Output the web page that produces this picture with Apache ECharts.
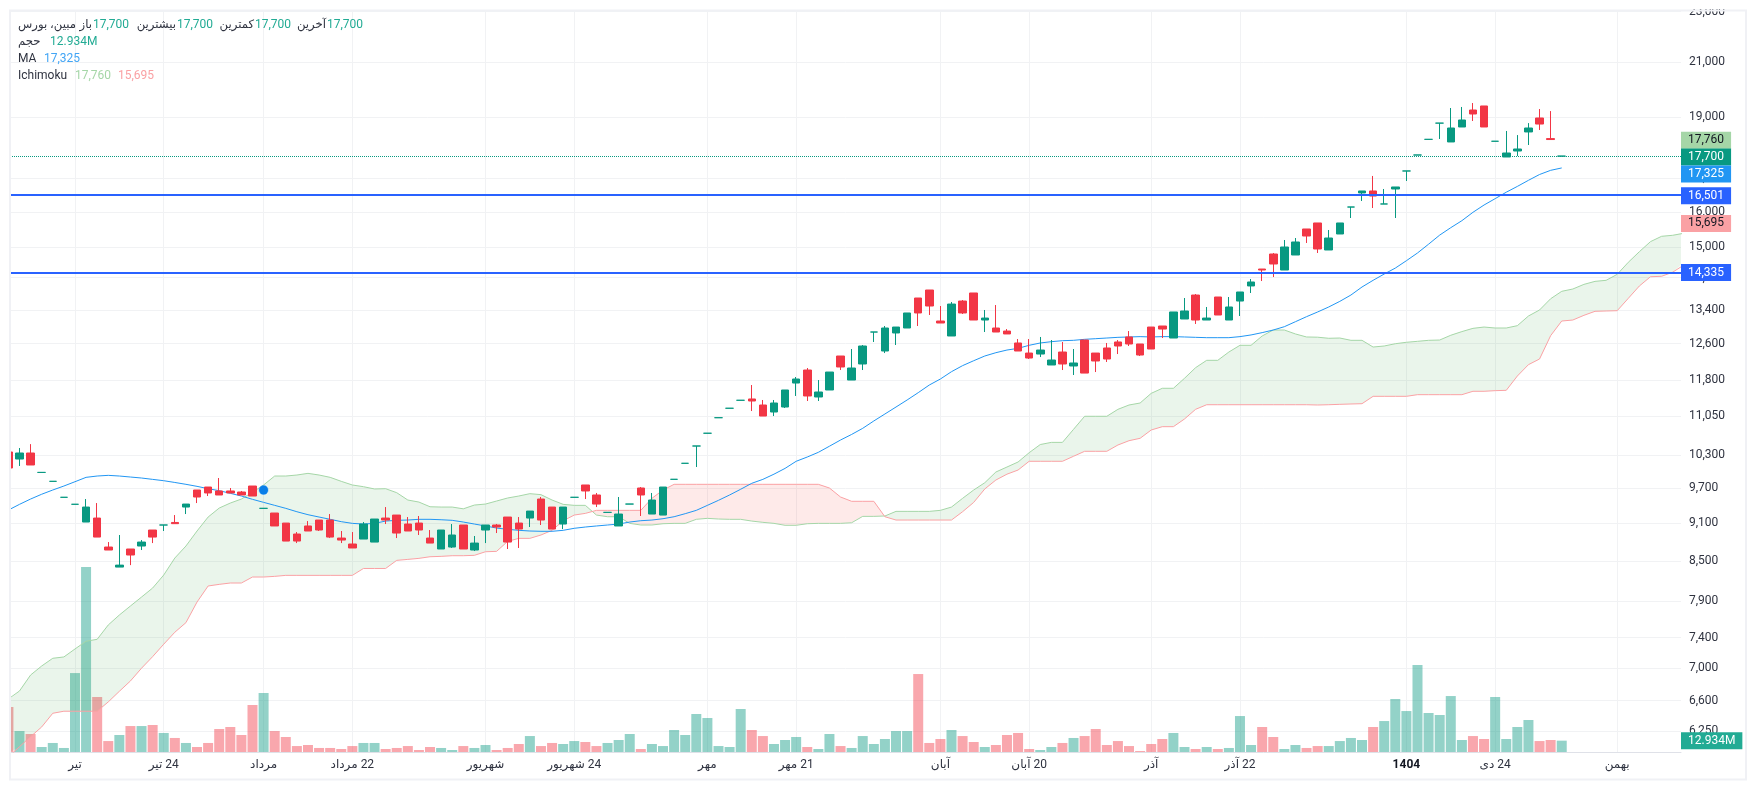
<!DOCTYPE html>
<html lang="fa">
    <head>
        <meta charset="utf-8" />
        <title>مبین، بورس</title>
        <style type="text/css">
            html, body { margin: 0; padding: 0; background: #fff; }
            #chart { width: 1757px; height: 790px; }
        </style>
        <script src="https://cdn.jsdelivr.net/npm/echarts@6/dist/echarts.min.js"></script>
    </head>
    <body>
        <div id="chart"></div>
        <script>
            //----------Data----------//
            const candleOpen = [
                10356,10225,10337,9980,9820,9540,9420,9122,9188,8718,
                8407,8687,8734,8991,9073,9115,9373,9667,9719,9650,
                9650,9632,9737,9351,9272,9105,8926,9057,9155,9155,
                8861,8766,8845,8797,9188,9238,9089,9105,8861,8687,
                8718,9073,8671,8991,9073,9205,9105,9188,9510,9373,
                9089,9540,9755,9580,9283,9057,9424,9702,9255,9238,
                9856,10146,10469,10714,11020,11210,11373,11400,11276,11134,
                11235,11734,12014,11441,11587,12323,11798,12146,12870,12435,
                12848,12964,13688,13888,13129,12778,13613,13813,13153,12964,
                12893,12617,12389,12367,12124,12412,12102,12685,12389,12503,
                12640,12755,12594,12987,13011,12731,13177,13762,13153,13713,
                13153,13613,13990,14426,14824,14400,14797,15511,15681,14932,
                15371,16141,16558,16617,16230,16677,17230,17736,18246,18790,
                18160,18659,19242,19383,18183,17672,17865,18492,18966,18270,17700
            ];
            const candleClose = [
                10060,10337,10115,9980,9820,9540,9420,9373,8877,8671,
                8437,8593,8797,8877,9073,9095,9424,9545,9615,9580,
                9615,9580,9562,9351,9057,8813,8813,8975,8991,8877,
                8829,8703,9089,9172,9155,8942,8975,8991,8781,8991,
                8910,8687,8781,9073,9040,8797,9007,9305,9155,9007,
                9373,9540,9650,9424,9283,9255,9424,9580,9493,9719,
                9856,10146,10469,10714,11020,11210,11373,11358,11053,11317,
                11587,11820,11462,11545,11970,12080,12058,12548,12870,12964,
                12987,13322,13322,13491,13082,13539,13322,13153,13200,12870,
                12825,12435,12278,12457,12234,12146,12168,11948,12212,12256,
                12548,12594,12345,12480,12940,13346,13370,13153,13200,13273,
                13467,13838,14091,14400,14558,15013,15150,15315,14959,15260,
                15681,16141,16617,16465,16230,16738,17230,17736,18246,18790,
                18625,18897,19104,18659,18183,17800,17930,18625,18759,18240,17700
            ];
            const candleLow = [
                10060,10097,10115,9980,9820,9540,9420,9122,8877,8671,
                8407,8437,8671,8781,8975,9095,9255,9441,9562,9580,
                9615,9580,9562,9351,9057,8813,8781,8975,8975,8861,
                8781,8703,8845,8797,9089,8861,8975,8910,8781,8687,
                8703,8687,8655,8781,8942,8687,8703,9040,9073,9007,
                9007,9540,9510,9373,9283,9057,9424,9222,9255,9238,
                9856,10146,10078,10714,11020,11210,11373,11154,11053,11053,
                11215,11462,11358,11358,11587,12014,11798,12014,12640,12389,
                12571,12964,13011,13273,13082,12778,13297,13153,12870,12870,
                12825,12435,12256,12300,12124,12014,11906,11948,11970,12190,
                12367,12548,12323,12480,12731,12731,13177,13059,13153,13273,
                13153,13249,13813,14116,14219,14400,14797,15123,14851,14932,
                15371,15823,16318,16112,16230,15823,16920,17736,18246,18258,
                18160,18659,18863,18659,18183,17672,17704,18060,18558,18240,17700
            ];
            const candleHigh = [
                10356,10431,10505,9980,9820,9540,9420,9510,9441,8797,
                8910,8687,8829,8991,9073,9238,9424,9667,9719,9879,
                9702,9650,9737,9351,9272,9105,8958,9138,9155,9255,
                8975,8958,9122,9172,9373,9238,9205,9222,8991,8991,
                9089,9073,8894,9073,9090,9205,9205,9305,9545,9373,
                9373,9540,9755,9615,9283,9545,9424,9719,9615,9719,
                9856,10146,10469,10714,11020,11210,11373,11692,11379,11379,
                11587,11863,12058,11798,11970,12323,12480,12571,12870,13011,
                12987,13322,13688,13888,13491,13589,13638,13813,13394,13515,
                12940,12708,12708,12755,12685,12640,12480,12685,12389,12617,
                12685,12893,12594,12987,13011,13346,13688,13787,13467,13713,
                13713,13838,14168,14426,14851,15205,15260,15511,15681,15483,
                15681,16141,16617,17075,16677,16738,17230,17736,18246,18790,
                19312,19348,19487,19383,18183,18525,18388,18791,19276,19205,17700
            ];
            // traded volume, millions
            const volume = [
                51.3,23.9,20.5,5.7,10.3,4.6,90,210.9,62.7,12.5,
                19.4,29.6,29.6,30.8,21.7,16,10.3,5.7,10.3,26.2,
                28.5,19.4,53.6,67.3,23.9,17.1,6.8,8,4.6,4.6,
                3.4,6.8,10.3,10.3,3.4,4.6,6.8,2.3,5.7,4.6,
                2.3,6.8,4.6,8,2.3,4.6,9.1,18.2,6.8,10.3,
                9.1,12.5,11.4,6.8,10.3,13.7,20.5,3.4,9.1,6.8,
                25.1,19.4,43.3,38.8,6.8,5.7,49,25.1,18.2,9.1,
                13.7,17.1,5.7,3.4,20.5,6.8,4.6,18.2,9.1,14.8,
                23.9,23.9,88.9,10.3,14.8,25.1,18.2,11.4,5.7,8,
                19.4,21.7,3.4,2.3,5.7,10.3,16,18.2,26.2,8,
                12.5,6.8,1.1,9.1,14.8,21.7,5.7,3.4,5.7,3.4,
                4.6,41,8,28.5,17.1,3.4,8,4.6,6.8,6.8,
                12.5,16,13.7,28.5,35.3,60.4,46.7,99.2,44.5,42.2,
                63.8,13.7,18.2,14.8,62.7,14.8,28.5,36.5,12.5,13.7,12.934
            ];
            // 1 = up day, 0 = down day
            const volumeSide = [
                0,1,0,1,1,1,1,1,0,0,
                1,0,1,0,1,0,1,0,0,0,
                0,0,0,1,0,0,0,0,0,0,
                0,0,1,1,0,0,0,0,0,1,
                1,0,1,1,0,0,0,1,0,0,
                1,1,0,0,1,1,1,0,1,1,
                1,1,1,1,1,1,1,0,0,1,
                1,1,0,1,1,0,1,1,1,1,
                1,1,0,0,0,1,0,0,1,0,
                0,0,0,1,1,0,1,0,0,0,
                0,0,0,0,0,1,1,0,1,0,
                1,1,1,0,0,1,1,0,0,1,
                1,1,1,0,1,1,1,1,1,1,
                1,1,0,0,1,1,1,1,0,0,1
            ];
            const maLine = [
                9322,9419,9510,9593,9667,9737,9813,9891,9915,9927,
                9915,9897,9879,9855,9831,9800,9767,9731,9690,9655,
                9609,9562,9505,9453,9402,9351,9294,9244,9205,9167,
                9128,9100,9089,9100,9138,9150,9155,9167,9167,9160,
                9150,9122,9089,9057,9023,9002,8986,8975,8970,8970,
                8986,9019,9040,9057,9073,9089,9122,9144,9155,9177,
                9210,9261,9317,9402,9488,9580,9680,9785,9855,9948,
                10053,10183,10262,10350,10465,10583,10691,10810,10955,11094,
                11235,11379,11531,11692,11820,11978,12110,12218,12323,12397,
                12457,12495,12564,12617,12647,12670,12678,12701,12716,12731,
                12747,12755,12763,12755,12763,12763,12755,12747,12739,12739,
                12739,12763,12802,12856,12917,12995,13113,13233,13346,13467,
                13605,13762,13964,14134,14296,14450,14645,14851,15090,15340,
                15548,15746,15987,16200,16387,16580,16755,16941,17120,17250,17325
            ];
            // Ichimoku cloud edges, they run past the last candle
            const spanA = [
                6620,6717,6914,7028,7127,7144,7248,7350,7376,7570,
                7708,7835,7963,8094,8287,8546,8734,8975,9205,9356,
                9441,9510,9627,9755,9915,9915,9933,9963,9933,9891,
                9820,9755,9725,9685,9690,9620,9493,9458,9378,9373,
                9373,9343,9407,9424,9476,9528,9562,9603,9586,9493,
                9419,9402,9402,9238,9210,9210,9100,9073,9073,9094,
                9100,9100,9167,9183,9172,9167,9167,9138,9117,9100,
                9068,9068,9094,9100,9100,9100,9110,9216,9216,9222,
                9300,9300,9300,9300,9317,9373,9522,9667,9795,9987,
                10078,10170,10343,10497,10538,10538,10790,11048,11048,11048,
                11188,11276,11317,11517,11623,11623,11835,12065,12227,12227,
                12412,12564,12564,12778,12917,12917,12825,12755,12750,12725,
                12731,12678,12678,12525,12548,12600,12633,12655,12678,12685,
                12795,12880,12956,12987,12964,12964,13019,13249,13394,13670,
                13855,13913,14030,14107,14134,14288,14603,14887,15160,15307,15335,15391
            ];
            const spanB = [
                5960,6072,6183,6293,6451,6475,6475,6475,6475,6585,
                6713,6840,7000,7148,7311,7471,7602,7891,8124,8148,
                8168,8168,8257,8257,8267,8282,8282,8282,8282,8282,
                8282,8282,8386,8386,8386,8510,8525,8541,8566,8572,
                8582,8582,8588,8644,8650,8808,8856,8856,8910,8986,
                9143,9238,9266,9317,9317,9317,9317,9317,9522,9667,
                9767,9767,9767,9767,9767,9767,9767,9767,9767,9767,
                9767,9767,9767,9767,9702,9545,9471,9471,9471,9210,
                9155,9155,9155,9155,9155,9155,9294,9452,9685,9843,
                9948,10023,10183,10183,10183,10183,10276,10369,10369,10369,
                10488,10570,10616,10777,10842,10842,10994,11188,11282,11282,
                11282,11282,11282,11282,11282,11282,11282,11282,11276,11282,
                11290,11297,11303,11455,11455,11455,11455,11489,11489,11489,
                11489,11489,11560,11560,11573,11580,11884,12131,12256,12785,
                13129,13153,13265,13362,13370,13377,13680,13990,14226,14237,14343,14530
            ];
            const priceTicks = [23000,21000,19000,17000,16000,15000,14200,13400,12600,11800,11050,10300,9700,9100,8500,7900,7400,7000,6600,6250];
            const timeTicks = [6,14,23,31,43,51,63,71,84,92,103,111,126,134,145];
            // RLM keeps the day number on the right of the month name
            const timeLabels = ["تیر","\u200f24 تیر","مرداد","\u200f22 مرداد","شهریور","\u200f24 شهریور","مهر","\u200f21 مهر","آبان","\u200f20 آبان","آذر","\u200f22 آذر","1404","\u200f24 دی","بهمن"];
            const supportLevels = [16501, 14335];
            const lastPrice = 17700;
            const lastVolume = 12.934;
            const maLast = 17325;
            const spanALast = 17760;
            const spanBLast = 15695;
            const markerIndex = 23;
            const markerPrice = 9667;

            //----------Colors and small helpers----------//
            const FONT = 'Roboto, "DejaVu Sans", sans-serif';
            const UP = '#089981';
            const DOWN = '#F23645';
            const TEXT = '#2f3340';
            const GRID = '#f1f2f4';
            const NO_LINE = { color: 'transparent', width: 0 };
            const fmt = (v) => Number(v).toLocaleString('en-US');

            // a coloured price tag on the scale, the line itself is optional
            const priceTag = (value, bg, color, lineStyle, dy) => ({
                yAxis: value,
                lineStyle: lineStyle || NO_LINE,
                label: {
                    show: true,
                    position: 'end',
                    distance: 0,
                    offset: [0, dy || 1],
                    formatter: fmt(value),
                    backgroundColor: bg,
                    color: color,
                    fontFamily: FONT,
                    fontSize: 12,
                    lineHeight: 17,
                    padding: [0, 7]
                }
            });

            //----------Ichimoku fill: one polygon per stretch where one edge stays on top----------//
            const cloudRegions = [];
            let regionStart = 0;
            for (let i = 1; i < spanA.length; i++) {
                if ((spanA[i] > spanB[i]) !== (spanA[regionStart] > spanB[regionStart])) {
                    cloudRegions.push([regionStart, spanA[regionStart], i - 1]);
                    regionStart = i;
                }
            }
            cloudRegions.push([regionStart, spanA[regionStart], spanA.length - 1]);

            function crossing(api, i) {
                let a0 = api.coord([i, spanA[i]]), a1 = api.coord([i + 1, spanA[i + 1]]);
                let b0 = api.coord([i, spanB[i]]), b1 = api.coord([i + 1, spanB[i + 1]]);
                let d0 = a0[1] - b0[1], d1 = a1[1] - b1[1];
                let t = d0 / (d0 - d1);
                return [a0[0] + t * (a1[0] - a0[0]), a0[1] + t * (a1[1] - a0[1])];
            }

            function renderCloud(params, api) {
                let from = api.value(0);
                let to = api.value(2);
                let points = [];
                if (from > 0) points.push(crossing(api, from - 1));
                for (let i = from; i <= to; i++) points.push(api.coord([i, spanA[i]]));
                if (to < spanA.length - 1) points.push(crossing(api, to));
                for (let i = to; i >= from; i--) points.push(api.coord([i, spanB[i]]));
                let rect = params.coordSys;
                return {
                    type: 'polygon',
                    shape: { points: echarts.graphic.clipPointsByRect(points, { x: rect.x, y: rect.y, width: rect.width, height: rect.height }) },
                    style: { fill: spanA[from] > spanB[from] ? 'rgba(67,160,71,0.11)' : 'rgba(244,67,54,0.11)' }
                };
            }

            //----------Legend lines, top left----------//
            const legendRows = [
                { y: 24, left: [["مبین، بورس", 18, TEXT], ["17,700", 93, '#22ab94'], ["17,700", 177, '#22ab94'], ["17,700", 255, '#22ab94'], ["17,700", 327, '#22ab94']],
                  right: [["باز", 92], ["بیشترین", 176], ["کمترین", 254], ["آخرین", 326]] },
                { y: 41, left: [["حجم", 18, TEXT], ["12.934M", 50, '#22ab94']], right: [] },
                { y: 58, left: [["MA", 18, TEXT], [fmt(maLast), 44, '#42a5f5']], right: [] },
                { y: 75, left: [["Ichimoku", 18, TEXT], [fmt(spanALast), 75, '#a5d6a7'], [fmt(spanBLast), 118, '#faa1a4']], right: [] }
            ];
            const legendGraphic = [];
            const legendFont = (s) => (/[0-9A-Za-z]/.test(s) ? '12px ' : '11.7px ') + FONT;
            legendRows.forEach((row) => {
                row.left.forEach((t) => legendGraphic.push({
                    type: 'text', x: t[1], y: row.y + 1, z: 120,
                    style: { text: t[0], fill: t[2], font: legendFont(t[0]), textAlign: 'left', textVerticalAlign: 'middle' }
                }));
                row.right.forEach((t) => legendGraphic.push({
                    type: 'text', x: t[1], y: row.y + 1, z: 120,
                    style: { text: t[0], fill: TEXT, font: legendFont(t[0]), textAlign: 'right', textVerticalAlign: 'middle' }
                }));
            });

            //----------Chart options----------//
            let chart = echarts.init(document.getElementById('chart'), null, { width: 1757, height: 790 });

            const option = {
                animation: false,
                backgroundColor: '#fff',
                textStyle: { fontFamily: FONT },
                grid: { left: 10, right: 76, top: 10, bottom: 38 },
                xAxis: {
                    type: 'value',
                    min: 0.1442,
                    max: 150.75,
                    axisLine: { show: true, lineStyle: { color: '#dfe1e8' } },
                    axisTick: { show: false, customValues: timeTicks },
                    splitLine: { show: true, lineStyle: { color: GRID } },
                    axisLabel: {
                        customValues: timeTicks,
                        margin: 7,
                        fontSize: 12,
                        color: TEXT,
                        fontFamily: FONT,
                        formatter: (v) => {
                            let s = timeLabels[timeTicks.indexOf(v)];
                            return s === "1404" ? '{year|1404}' : s;
                        },
                        rich: { year: { fontWeight: 'bold', fontSize: 12, color: '#131722', fontFamily: FONT } }
                    }
                },
                yAxis: [
                    {
                        type: 'log',
                        position: 'right',
                        min: 6014,
                        max: 23064,
                        axisLine: { show: false },
                        axisTick: { show: false, customValues: priceTicks },
                        splitLine: { show: true, lineStyle: { color: GRID } },
                        axisLabel: {
                            customValues: priceTicks,
                            margin: 8,
                            fontSize: 12,
                            color: TEXT,
                            fontFamily: FONT,
                            formatter: fmt
                        }
                    },
                    {
                        type: 'value',
                        position: 'right',
                        min: 0,
                        max: 846,
                        show: false,
                        splitLine: { show: false }
                    }
                ],
                series: [
                    {
                        name: 'Volume',
                        type: 'bar',
                        yAxisIndex: 1,
                        z: 1,
                        barWidth: 10,
                        data: volume.map((v, i) => ({
                            value: [i, v],
                            itemStyle: { color: volumeSide[i] ? 'rgba(8,153,129,0.44)' : 'rgba(242,54,69,0.44)' }
                        })),
                        markLine: {
                            silent: true,
                            symbol: 'none',
                            animation: false,
                            z: 6,
                            data: [{
                                yAxis: lastVolume,
                                lineStyle: NO_LINE,
                                label: {
                                    show: true, position: 'end', distance: 0,
                                    formatter: lastVolume + 'M',
                                    backgroundColor: '#22ab94', color: '#fff',
                                    fontFamily: FONT, fontSize: 12, lineHeight: 17, padding: [0, 7]
                                }
                            }]
                        }
                    },
                    {
                        name: 'Cloud',
                        type: 'custom',
                        z: 2,
                        silent: true,
                        encode: { x: 0, y: 1 },
                        data: cloudRegions,
                        renderItem: renderCloud
                    },
                    {
                        name: 'Span A',
                        type: 'line',
                        z: 3,
                        showSymbol: false,
                        lineStyle: { color: '#a5d6a7', width: 1 },
                        data: spanA.map((v, i) => [i, v])
                    },
                    {
                        name: 'Span B',
                        type: 'line',
                        z: 3,
                        showSymbol: false,
                        lineStyle: { color: '#faa1a4', width: 1 },
                        data: spanB.map((v, i) => [i, v])
                    },
                    {
                        name: 'MA',
                        type: 'line',
                        z: 3,
                        showSymbol: false,
                        lineStyle: { color: '#2196f3', width: 1 },
                        data: maLine.map((v, i) => [i, v])
                    },
                    {
                        name: 'Price',
                        type: 'candlestick',
                        z: 4,
                        barWidth: 8,
                        itemStyle: {
                            color: UP,
                            color0: DOWN,
                            borderColor: UP,
                            borderColor0: DOWN,
                            borderColorDoji: UP,
                            borderWidth: 1
                        },
                        data: candleOpen.map((o, i) => [i, o, candleClose[i], candleLow[i], candleHigh[i]]),
                        markLine: {
                            silent: true,
                            symbol: 'none',
                            animation: false,
                            z: 6,
                            data: [
                                priceTag(spanALast, '#a5d6a7', '#131722', null, -14),
                                priceTag(lastPrice, UP, '#fff', { color: UP, type: 'dotted', width: 1 }),
                                priceTag(maLast, '#2196f3', '#fff', null, 6),
                                priceTag(supportLevels[0], '#2962ff', '#fff', { color: '#2962ff', type: 'solid', width: 2 }),
                                priceTag(spanBLast, '#faa1a4', '#131722'),
                                priceTag(supportLevels[1], '#2962ff', '#fff', { color: '#2962ff', type: 'solid', width: 2 }, -0.01)
                            ]
                        }
                    },
                    {
                        name: 'Marker',
                        type: 'scatter',
                        z: 5,
                        symbolSize: 9,
                        itemStyle: { color: '#0a7fe8', opacity: 1, borderColor: 'rgba(10,132,255,0.35)', borderWidth: 1 },
                        data: [[markerIndex, markerPrice]]
                    }
                ],
                graphic: [
                    // hides what hangs over the top and left edges, then the card border
                    { type: 'rect', z: 100, shape: { x: 0, y: 0, width: 1757, height: 9 }, style: { fill: '#fff' } },
                    { type: 'rect', z: 100, shape: { x: 0, y: 0, width: 10, height: 790 }, style: { fill: '#fff' } },
                    { type: 'rect', z: 101, shape: { x: 10, y: 10.5, width: 1736, height: 769 }, style: { fill: 'none', stroke: '#f0f1f5', lineWidth: 2 } }
                ].concat(legendGraphic)
            };

            chart.setOption(option);
        </script>
    </body>
</html>
